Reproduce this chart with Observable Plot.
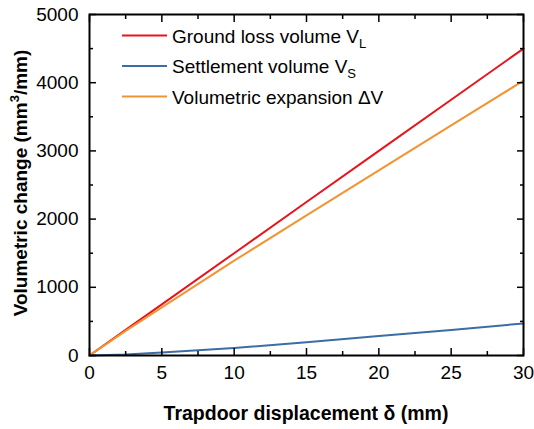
<!DOCTYPE html>
<html><head><meta charset="utf-8">
<script src="https://cdn.jsdelivr.net/npm/d3@7"></script>
<script src="https://cdn.jsdelivr.net/npm/@observablehq/plot@0.6"></script>
<style>body{margin:0;background:#fff} svg{display:block}</style>
</head><body><div id="chart"></div>
<script>
const displacement = [0, 2.5, 5, 10, 15, 20, 25, 30];
const groundLoss = [0, 375, 750, 1500, 2250, 3000, 3750, 4500];
const settlement = [0, 15, 45, 110, 195, 285, 375, 470];
const expansion = [0, 360, 705, 1390, 2055, 2715, 3375, 4030];
const seriesNames = ["Ground loss volume", "Settlement volume", "Volumetric expansion"];
const seriesSymbols = ["V", "V", "\u0394V"];
const seriesSubscripts = ["L", "S", ""];
const seriesColors = ["#e8141c", "#3a6ea5", "#f39433"];
const xTicks = [0, 5, 10, 15, 20, 25, 30];
const xMinorTicks = [2.5, 7.5, 12.5, 17.5, 22.5, 27.5];
const yTicks = [0, 1000, 2000, 3000, 4000, 5000];
const yMinorTicks = [500, 1500, 2500, 3500, 4500];
const xTitle = "Trapdoor displacement \u03b4 (mm)";
const yTitleMain = "Volumetric change (mm";
const yTitleSup = "3";
const yTitleEnd = "/mm)";

const rows = [];
[groundLoss, settlement, expansion].forEach((vals, i) =>
  vals.forEach((v, j) => rows.push({series: seriesNames[i], x: displacement[j], y: v})));

const font = "'Liberation Sans', Arial, sans-serif";
const blank = () => "";
const plain = d => String(d);
const plot = Plot.plot({
  width: 534, height: 429,
  marginLeft: 89, marginRight: 11, marginTop: 14, marginBottom: 74,
  style: {fontFamily: font, fontSize: "19px", color: "#000", background: "#fff"},
  x: {domain: [0, 30]},
  y: {domain: [0, 5000]},
  color: {domain: seriesNames, range: seriesColors},
  marks: [
    Plot.line(rows, {x: "x", y: "y", z: "series", stroke: "series", strokeWidth: 2}),
    Plot.axisX({ticks: xTicks, tickSize: -7, tickPadding: 17, label: null, tickFormat: plain, strokeWidth: 1.5}),
    Plot.axisX({ticks: xMinorTicks, tickSize: -4, label: null, tickFormat: blank, strokeWidth: 1.5}),
    Plot.axisX({anchor: "top", ticks: xTicks, tickSize: -7, label: null, tickFormat: blank, strokeWidth: 1.5}),
    Plot.axisX({anchor: "top", ticks: xMinorTicks, tickSize: -4, label: null, tickFormat: blank, strokeWidth: 1.5}),
    Plot.axisY({ticks: yTicks, tickSize: -7, tickPadding: 18, label: null, tickFormat: plain, strokeWidth: 1.5}),
    Plot.axisY({ticks: yMinorTicks, tickSize: -4, label: null, tickFormat: blank, strokeWidth: 1.5}),
    Plot.axisY({anchor: "right", ticks: yTicks, tickSize: -7, label: null, tickFormat: blank, strokeWidth: 1.5}),
    Plot.axisY({anchor: "right", ticks: yMinorTicks, tickSize: -4, label: null, tickFormat: blank, strokeWidth: 1.5}),
    Plot.frame({stroke: "#000", strokeWidth: 2})
  ]
});
document.getElementById("chart").appendChild(plot);

const svg = d3.select(plot);
// axis titles
svg.append("text")
  .attr("x", 306).attr("y", 420)
  .attr("text-anchor", "middle")
  .attr("font-family", font).attr("font-size", 19.5).attr("font-weight", "bold")
  .text(xTitle);
const yt = svg.append("text")
  .attr("transform", "translate(27,183) rotate(-90)")
  .attr("text-anchor", "middle")
  .attr("font-family", font).attr("font-size", 19).attr("font-weight", "bold");
yt.append("tspan").text(yTitleMain);
yt.append("tspan").attr("font-size", 13).attr("dy", -8).text(yTitleSup);
yt.append("tspan").attr("dy", 8).text(yTitleEnd);

// legend
const lg = svg.append("g").attr("font-family", font).attr("font-size", 19).attr("text-anchor", "start");
seriesNames.forEach((name, i) => {
  const cy = 35.5 + i * 30.5;
  lg.append("line").attr("x1", 122).attr("x2", 167).attr("y1", cy).attr("y2", cy)
    .attr("stroke", seriesColors[i]).attr("stroke-width", 2);
  const t = lg.append("text").attr("x", 172).attr("y", cy + 7);
  t.append("tspan").text(name + " " + seriesSymbols[i]);
  if (seriesSubscripts[i]) t.append("tspan").attr("font-size", 13).attr("dy", 5).text(seriesSubscripts[i]);
});
</script>
</body></html>
